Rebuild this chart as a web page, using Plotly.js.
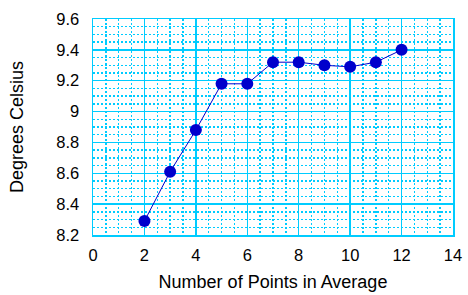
<!DOCTYPE html>
<html>
<head>
<meta charset="utf-8">
<script src="https://cdn.plot.ly/plotly-3.0.1.min.js"></script>
<style>
  html, body { margin: 0; padding: 0; background: #ffffff; }
  #chart { width: 468px; height: 295px; }
</style>
</head>
<body>
<div id="chart"></div>
<script>
const pointsInAverage = [2, 3, 4, 5, 6, 7, 8, 9, 10, 11, 12];
const degreesCelsius = [8.29, 8.61, 8.88, 9.18, 9.18, 9.32, 9.32, 9.30, 9.29, 9.32, 9.40];
const xTitle = 'Number of Points in Average';
const yTitle = 'Degrees Celsius';

const gridColor = '#00ccff';
const fontFam = 'Arial, "Liberation Sans", sans-serif';

const trace = {
  x: pointsInAverage,
  y: degreesCelsius,
  type: 'scatter',
  mode: 'lines+markers',
  line: { color: '#0000cc', width: 1 },
  marker: { color: '#0000cc', size: 12 },
  hoverinfo: 'skip'
};

const layout = {
  width: 468,
  height: 295,
  margin: { l: 93, r: 15, t: 19, b: 60 },
  paper_bgcolor: '#ffffff',
  plot_bgcolor: '#ffffff',
  showlegend: false,
  font: { family: fontFam, color: '#000000', size: 16 },
  xaxis: {
    range: [0, 14],
    dtick: 2,
    tick0: 0,
    showgrid: true,
    gridcolor: gridColor,
    gridwidth: 1.5,
    zeroline: false,
    showline: true,
    linecolor: gridColor,
    linewidth: 1.5,
    mirror: true,
    ticks: '',
    ticklabelstandoff: 5,
    tickfont: { size: 16.5 },
    minor: { dtick: 0.5, showgrid: true, gridcolor: gridColor, gridwidth: 1.3, griddash: '2px,2px' },
    title: { text: xTitle, font: { size: 18 }, standoff: 12 },
    fixedrange: true
  },
  yaxis: {
    range: [8.2, 9.6],
    dtick: 0.2,
    tick0: 8.2,
    showgrid: true,
    gridcolor: gridColor,
    gridwidth: 1.5,
    zeroline: false,
    showline: true,
    linecolor: gridColor,
    linewidth: 1.5,
    mirror: true,
    ticks: '',
    ticklabelstandoff: 9,
    tickfont: { size: 16.5 },
    minor: { dtick: 0.05, showgrid: true, gridcolor: gridColor, gridwidth: 1.3, griddash: '2px,2px' },
    title: { text: yTitle, font: { size: 18 }, standoff: 28 },
    fixedrange: true
  }
};

Plotly.newPlot('chart', [trace], layout, { displayModeBar: false, staticPlot: true });
</script>
</body>
</html>
